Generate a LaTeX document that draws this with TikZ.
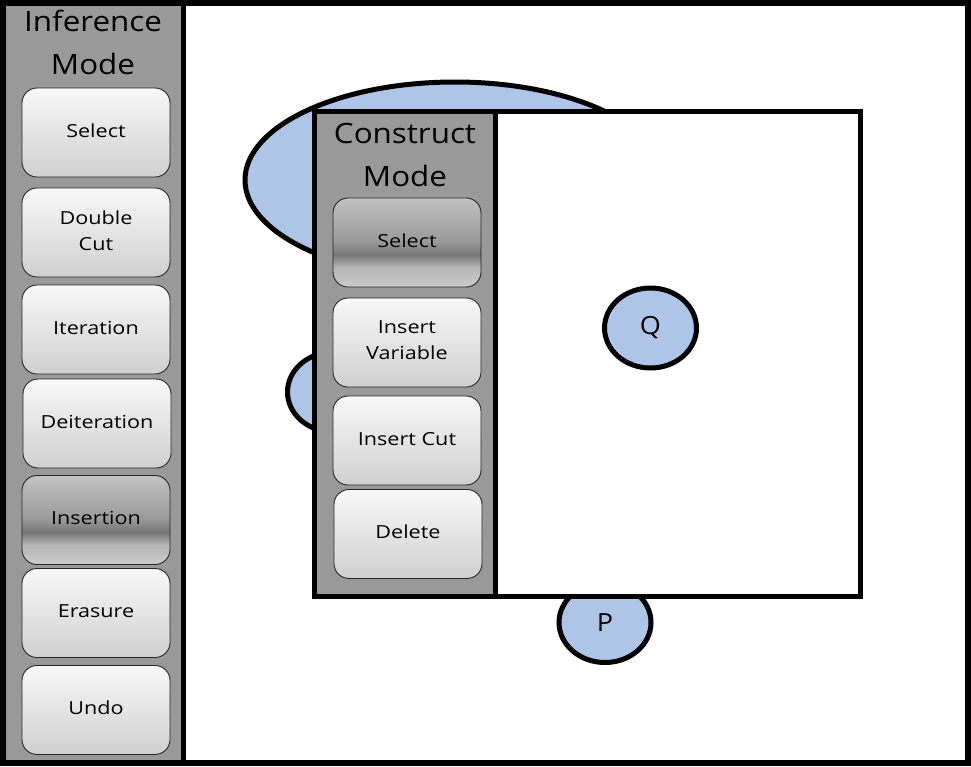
\documentclass[tikz,border=0pt]{standalone}
\usepackage{fontspec}
\setmainfont{Open Sans}
\newfontfamily\btnfont{Open Sans}[FakeStretch=1.2]
\newfontfamily\ttlfont{Open Sans}[FakeStretch=1.12]
\newfontfamily\blobfont{Open Sans}[FakeStretch=1.08]
\usetikzlibrary{shapes.geometric}
\definecolor{panelgray}{HTML}{999999}
\definecolor{blobblue}{HTML}{AFC5E7}
\definecolor{btntop}{HTML}{F8F8F8}
\definecolor{btnbot}{HTML}{CFCFCF}
\definecolor{selA}{HTML}{CCCCCC}
\definecolor{selB}{HTML}{B5B5B5}
\definecolor{selC}{HTML}{777777}
\definecolor{selD}{HTML}{9A9A9A}
\definecolor{selE}{HTML}{C2C2C2}
\pgfdeclareverticalshading{selshade}{100bp}{color(0bp)=(selA); color(25bp)=(selA); color(36bp)=(selB); color(43bp)=(selC); color(51bp)=(selD); color(75bp)=(selE); color(100bp)=(selE)}
\begin{document}
\begin{tikzpicture}[x=1pt,y=-1pt,
  btnbase/.style={draw=black!85, line width=0.9pt, rounded corners=15pt,
    minimum width=148pt, minimum height=89pt, inner sep=0pt, align=center,
    text depth=4pt, font=\btnfont\fontsize{18}{26}\selectfont},
  btn/.style={btnbase, top color=btntop, bottom color=btnbot},
  selbtn/.style={btnbase, shading=selshade},
  blob/.style={ellipse, draw=black, line width=5pt, fill=blobblue, inner sep=0pt,
    font=\blobfont\fontsize{25}{30}\selectfont},
  title/.style={align=center, inner sep=0pt, font=\ttlfont\fontsize{28}{43}\selectfont}]
\useasboundingbox (0,0) rectangle (971,766);
\fill[white] (0,0) rectangle (971,766);
% left panel
\fill[panelgray] (5,5) rectangle (183.5,761);
\draw[line width=5pt] (183.5,3) -- (183.5,763);
\draw[line width=6pt] (3,3) rectangle (968,763);
\node[title] (inftitle) at (93,42.5) {Inference\\Mode};
\node[btn] (iselect) at (96,132.5) {Select};
\node[btn] (idouble) at (96,232.5) {Double\\Cut};
\node[btn] (iiter) at (96,329.5) {Iteration};
\node[btn] (ideiter) at (97,423.5) {Deiteration};
\node[selbtn] (iinsert) at (96,520) {Insertion};
\node[btn] (ierase) at (96,613) {Erasure};
\node[btn] (iundo) at (96,710) {Undo};
% blobs behind construct window
\node[blob, minimum width=420pt, minimum height=196pt] (big) at (455,180) {};
\node[blob, minimum width=92pt, minimum height=80pt] (small) at (333.5,392) {};
\node[blob, minimum width=92pt, minimum height=80pt] (P) at (605,622.5) {P};
% construct window
\draw[line width=5pt, fill=white] (314.5,111.5) rectangle (860,596);
\filldraw[fill=panelgray, line width=5pt] (314.5,111.5) rectangle (495.5,596);
\node[title] (contitle) at (405,155) {Construct\\Mode};
\node[selbtn] (cselect) at (407,242.5) {Select};
\node[btn] (cvar) at (407,342.5) {Insert\\Variable};
\node[btn] (ccut) at (407,440.5) {Insert Cut};
\node[btn] (cdel) at (408,534) {Delete};
\node[blob, minimum width=92pt, minimum height=80pt] (Q) at (650.5,328) {Q};
\end{tikzpicture}
\end{document}
